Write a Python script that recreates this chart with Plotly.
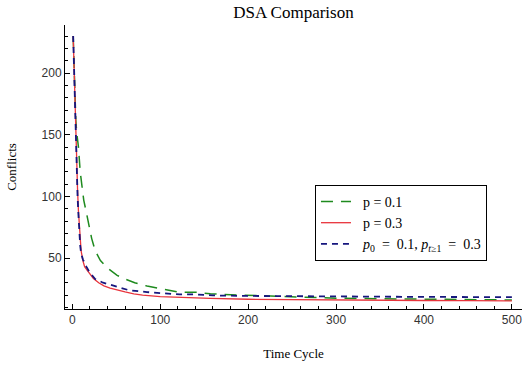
import plotly.graph_objects as go

# Data
x_red = [1, 2, 3, 4, 5, 6, 7, 8, 9, 10, 12, 14, 17, 20, 24, 30, 36, 43, 50, 60, 70, 80, 100, 125, 157, 200, 250, 300, 350, 400, 450, 500]
y_red = [230, 200, 175, 150, 125, 105, 88, 75, 62, 56, 48, 43, 40, 37, 33.5, 30, 27.5, 25.7, 24.3, 22.5, 21, 20, 18.8, 18, 17.3, 16.6, 16.2, 16, 15.8, 15.6, 15.5, 15.3]

x_blue = [1, 2, 3, 4, 5, 6, 7, 8, 9, 10, 12, 16, 20, 26, 35, 45, 64, 85, 103, 122, 141, 160, 200, 250, 300, 400, 500]
y_blue = [230, 200, 170, 145, 127, 100, 85, 70, 60, 54, 49, 43, 38, 33, 30, 28, 24, 22.4, 21.3, 20.5, 20.5, 19.7, 19.3, 19, 18.7, 18.5, 18.3]

x_green = [1, 2, 3, 4, 5, 7, 9, 11, 13, 16, 19, 22, 26, 32, 39, 45, 51, 60, 71, 85, 107, 121, 143, 157, 190, 230, 270, 300, 350, 400, 450, 500]
y_green = [230, 205, 180, 162, 152, 140, 120, 108, 97, 87, 75, 66, 56, 48, 42.5, 39, 36, 33, 30, 27.3, 24, 22.4, 22.2, 21, 20, 19, 18, 17.5, 17, 16.5, 16.3, 16]

names = ["\u2002p = 0.1",
         "\u2002p = 0.3",
         "\u2002<i>p</i><sub>0</sub>\u2002=\u20020.1, <i>p</i><sub><i>t</i>≥1</sub>\u2002=\u20020.3"]

fig = go.Figure()
fig.add_trace(go.Scatter(x=x_green, y=y_green, mode="lines", name=names[0],
                         line=dict(color="#1e8a1e", width=1.5, dash="12px,8px")))
fig.add_trace(go.Scatter(x=x_red, y=y_red, mode="lines", name=names[1],
                         line=dict(color="#e8343c", width=1.3)))
fig.add_trace(go.Scatter(x=x_blue, y=y_blue, mode="lines", name=names[2],
                         line=dict(color="#16167e", width=1.8, dash="6px,5px")))

tickfont = dict(family="Liberation Sans, Arial, sans-serif", size=12, color="#333333")
serif = "Liberation Serif, Times New Roman, serif"

fig.update_layout(
    width=523, height=365,
    margin=dict(l=65, r=1, t=25, b=56),
    paper_bgcolor="white", plot_bgcolor="white",
    title=dict(text="DSA Comparison", x=0.5, xref="paper", y=0.968, yanchor="middle",
               font=dict(family=serif, size=17, color="black")),
    showlegend=True,
    legend=dict(x=0.547, y=0.437, xanchor="left", yanchor="top",
                bgcolor="white", bordercolor="black", borderwidth=1,
                font=dict(family=serif, size=14, color="black"),
                itemwidth=30, tracegroupgap=0),
    xaxis=dict(range=[-8.3, 511.5], showgrid=False, zeroline=False,
               showline=True, linecolor="black", linewidth=1,
               ticks="inside", ticklen=5, tickcolor="black",
               tickvals=[0, 100, 200, 300, 400, 500], tickfont=tickfont,
               minor=dict(ticks="inside", ticklen=3, dtick=20, tick0=0, tickcolor="black"),
               title=dict(text="Time Cycle", font=dict(family=serif, size=13, color="black"), standoff=22)),
    yaxis=dict(range=[8.7, 239], showgrid=False, zeroline=False,
               showline=True, linecolor="black", linewidth=1,
               ticks="inside", ticklen=5, tickcolor="black",
               tickvals=[50, 100, 150, 200], tickfont=tickfont,
               minor=dict(ticks="inside", ticklen=3, dtick=10, tick0=0, tickcolor="black"),
               title=dict(text="Conflicts", font=dict(family=serif, size=13, color="black"), standoff=22)),
)

fig.write_html("out.html")
